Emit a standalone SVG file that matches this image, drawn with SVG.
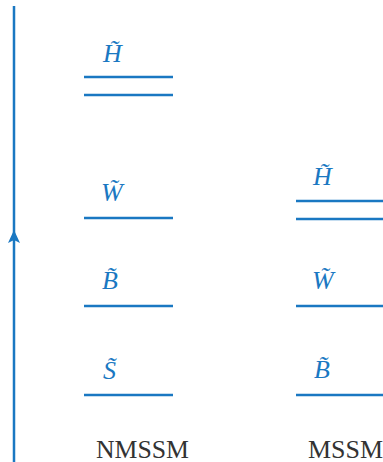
<svg xmlns="http://www.w3.org/2000/svg" width="383" height="462" viewBox="0 0 383 462">
<rect width="383" height="462" fill="#fff"/>
<g id="connectors">
<line x1="14" y1="6" x2="14" y2="462" stroke="#1a78c2" stroke-width="2.5"/>
<path d="M14,230 L20,243 L14,240 L8,243 Z" fill="#1a78c2"/>
</g>
<g stroke="#1a78c2" stroke-width="2.5" fill="none">
<g id="nmssm-H-lines"><line x1="84" y1="77" x2="173" y2="77"/><line x1="84" y1="95" x2="173" y2="95"/></g>
<g id="nmssm-W-line"><line x1="84" y1="218" x2="173" y2="218"/></g>
<g id="nmssm-B-line"><line x1="84" y1="306" x2="173" y2="306"/></g>
<g id="nmssm-S-line"><line x1="84" y1="395" x2="173" y2="395"/></g>
<g id="mssm-H-lines"><line x1="296" y1="201" x2="383" y2="201"/><line x1="296" y1="219" x2="383" y2="219"/></g>
<g id="mssm-W-line"><line x1="296" y1="306" x2="383" y2="306"/></g>
<g id="mssm-B-line"><line x1="296" y1="395" x2="383" y2="395"/></g>
</g>
<text id="nmssm-H" x="103" y="62" font-family="'Liberation Serif', serif" font-style="italic" font-size="26" fill="#1a78c2">H&#x303;</text>
<text id="nmssm-W" x="101" y="201" font-family="'Liberation Serif', serif" font-style="italic" font-size="26" fill="#1a78c2">W&#x303;</text>
<text id="nmssm-B" x="102" y="289" font-family="'Liberation Serif', serif" font-style="italic" font-size="26" fill="#1a78c2">B&#x303;</text>
<text id="nmssm-S" x="103" y="379" font-family="'Liberation Serif', serif" font-style="italic" font-size="26" fill="#1a78c2">S&#x303;</text>
<text id="mssm-H" x="313" y="185" font-family="'Liberation Serif', serif" font-style="italic" font-size="26" fill="#1a78c2">H&#x303;</text>
<text id="mssm-W" x="312" y="289" font-family="'Liberation Serif', serif" font-style="italic" font-size="26" fill="#1a78c2">W&#x303;</text>
<text id="mssm-B" x="314" y="378" font-family="'Liberation Serif', serif" font-style="italic" font-size="26" fill="#1a78c2">B&#x303;</text>
<text id="cap-nmssm" x="96" y="458" font-family="'Liberation Serif', serif" font-size="25" fill="#333" textLength="93" lengthAdjust="spacingAndGlyphs">NMSSM</text>
<text id="cap-mssm" x="308" y="458" font-family="'Liberation Serif', serif" font-size="25" fill="#333" textLength="75" lengthAdjust="spacingAndGlyphs">MSSM</text>
</svg>
